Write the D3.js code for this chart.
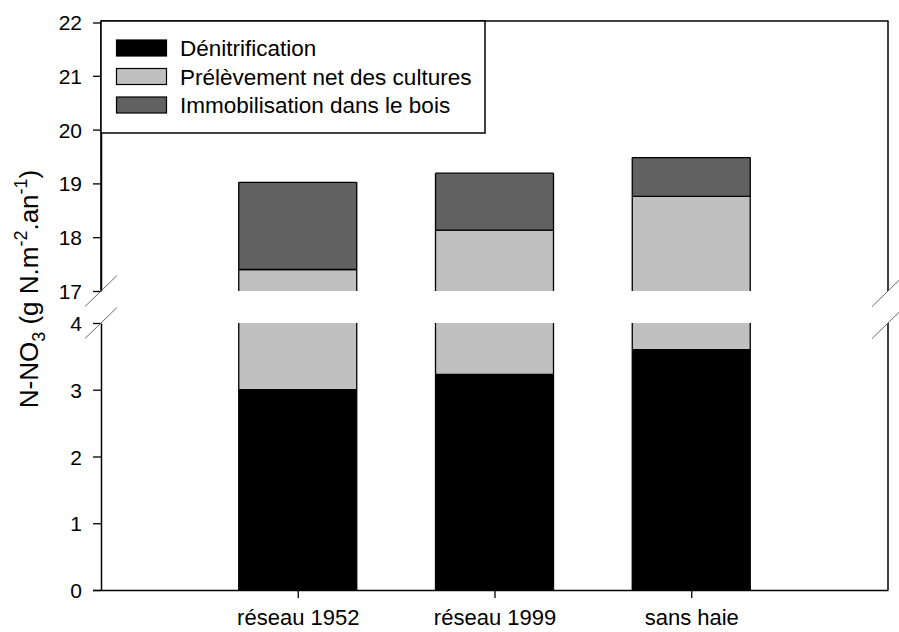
<!DOCTYPE html>
<html>
<head>
<meta charset="utf-8">
<script src="https://cdn.jsdelivr.net/npm/d3@7"></script>
<style>
  html, body { margin: 0; padding: 0; background: #fff; }
  svg { display: block; }
  text { font-family: "Liberation Sans", Arial, sans-serif; fill: #000; }
</style>
</head>
<body>
<svg id="chart" width="899" height="632"></svg>
<script>
// Nitrate balance per scenario (g N.m-2.an-1)
const categories = ["réseau 1952", "réseau 1999", "sans haie"];
const denitrification = [3.00, 3.23, 3.60];
const prelevement = [14.40, 14.90, 15.16];
const immobilisation = [1.62, 1.06, 0.72];

const seriesNames = ["Dénitrification", "Prélèvement net des cultures", "Immobilisation dans le bois"];
const seriesColors = ["#000000", "#c0c0c0", "#616161"];

const lowerTicks = [0, 1, 2, 3, 4];
const upperTicks = [17, 18, 19, 20, 21, 22];

const svg = d3.select("#chart");

const left = 101, right = 888, frameTop = 21;
const x = d3.scalePoint().domain(categories).range([left, right]).padding(1);
const barW = 118;

// Broken y axis: two panels sharing the same frame
const yLow = d3.scaleLinear().domain([0, 4]).range([590, 323]).clamp(true);
const yUp = d3.scaleLinear().domain([17, 22]).range([291, 22]).clamp(true);
const panels = [yLow, yUp];

// Stack the three components
const stacks = categories.map((c, i) => {
  const vals = [denitrification[i], prelevement[i], immobilisation[i]];
  let acc = 0;
  return vals.map((v, k) => {
    const seg = { cat: c, k, lo: acc, hi: acc + v };
    acc += v;
    return seg;
  });
});

const gBars = svg.append("g");
stacks.forEach(stack => {
  stack.forEach(seg => {
    panels.forEach(y => {
      const [d0, d1] = y.domain();
      const lo = Math.max(seg.lo, d0), hi = Math.min(seg.hi, d1);
      if (hi <= lo) return;
      const yb = y(lo), yt = y(hi);
      const x0 = x(seg.cat) - barW / 2, x1 = x(seg.cat) + barW / 2;
      gBars.append("rect")
        .attr("x", x0).attr("y", yt)
        .attr("width", barW).attr("height", yb - yt)
        .attr("fill", seriesColors[seg.k]);
      const line = (a, b, c, d) => gBars.append("line")
        .attr("x1", a).attr("y1", b).attr("x2", c).attr("y2", d)
        .attr("stroke", "#000").attr("stroke-width", 1.3);
      line(x0, yt, x0, yb);
      line(x1, yt, x1, yb);
      if (seg.hi <= d1 && seg.hi >= d0) line(x0, yt, x1, yt);
      if (seg.lo >= d0 && seg.lo <= d1) line(x0, yb, x1, yb);
    });
  });
});

// Frame: top, right (broken), left upper part
const frame = svg.append("g").attr("stroke", "#000").attr("stroke-width", 1.5).attr("fill", "none");
frame.append("line").attr("x1", left).attr("y1", frameTop).attr("x2", right + 0.5).attr("y2", frameTop);
frame.append("line").attr("x1", right).attr("y1", frameTop).attr("x2", right).attr("y2", yUp(17));
frame.append("line").attr("x1", right).attr("y1", yLow(4)).attr("x2", right).attr("y2", yLow(0));
frame.append("line").attr("x1", left).attr("y1", frameTop).attr("x2", left).attr("y2", yUp(17));

// Left axis, two segments
const axisFont = g => {
  g.selectAll("text").style("font-size", "21px").attr("x", -19).attr("dy", "0.36em");
  g.selectAll("line").attr("stroke-width", 1.3);
  g.select(".domain").attr("stroke-width", 1.5);
};
svg.append("g").attr("transform", `translate(${left},0)`)
  .call(d3.axisLeft(yLow).tickValues(lowerTicks).tickSize(8).tickSizeOuter(0).tickFormat(d3.format("d")))
  .call(axisFont);
svg.append("g").attr("transform", `translate(${left},0)`)
  .call(d3.axisLeft(yUp).tickValues(upperTicks).tickSize(8).tickSizeOuter(0).tickFormat(d3.format("d")))
  .call(axisFont)
  .call(g => g.selectAll(".tick").filter(d => d === 22).select("line").attr("y1", 0.5).attr("y2", 0.5));

// Bottom axis
svg.append("g").attr("transform", `translate(0,${yLow(0)})`)
  .call(d3.axisBottom(x).tickSize(8).tickSizeOuter(0))
  .call(g => {
    g.select(".domain").attr("d", `M${left - 8},0.5H${right + 0.5}`).attr("stroke-width", 1.5);
    g.selectAll("line").attr("stroke-width", 1.3);
    g.selectAll("text").style("font-size", "22px").attr("y", 19).attr("dy", "0.71em");
  });

// Axis break marks
const breaks = svg.append("g").attr("stroke", "#6a6a6a").attr("stroke-width", 1);
[left, right].forEach(ax => {
  [yUp(17), yLow(4)].forEach(yb => {
    breaks.append("line")
      .attr("x1", ax - 16).attr("y1", yb + 15.5)
      .attr("x2", ax + 16).attr("y2", yb - 15.5);
  });
});

// Y axis title
const title = svg.append("text")
  .attr("transform", "translate(38,289) rotate(-90)")
  .attr("text-anchor", "middle")
  .style("font-size", "26px");
title.append("tspan").text("N-NO");
title.append("tspan").text("3").attr("dy", 7).style("font-size", "18px");
title.append("tspan").text(" (g N.m").attr("dy", -7);
title.append("tspan").text("-2").attr("dy", -11).style("font-size", "18px");
title.append("tspan").text(".an").attr("dy", 11);
title.append("tspan").text("-1").attr("dy", -11).style("font-size", "18px");
title.append("tspan").text(")").attr("dy", 11);

// Legend
const legend = svg.append("g");
legend.append("rect").attr("x", left).attr("y", frameTop)
  .attr("width", 384).attr("height", 112)
  .attr("fill", "#fff").attr("stroke", "#000").attr("stroke-width", 1.5);
seriesNames.forEach((name, i) => {
  const cy = 48 + i * 28.5;
  legend.append("rect").attr("x", 116.5).attr("y", cy - 8)
    .attr("width", 50).attr("height", 16)
    .attr("fill", seriesColors[i]).attr("stroke", "#000").attr("stroke-width", 1.2);
  legend.append("text").attr("x", 180).attr("y", cy).attr("dy", "0.36em")
    .style("font-size", "22.5px").text(name);
});
</script>
</body>
</html>
